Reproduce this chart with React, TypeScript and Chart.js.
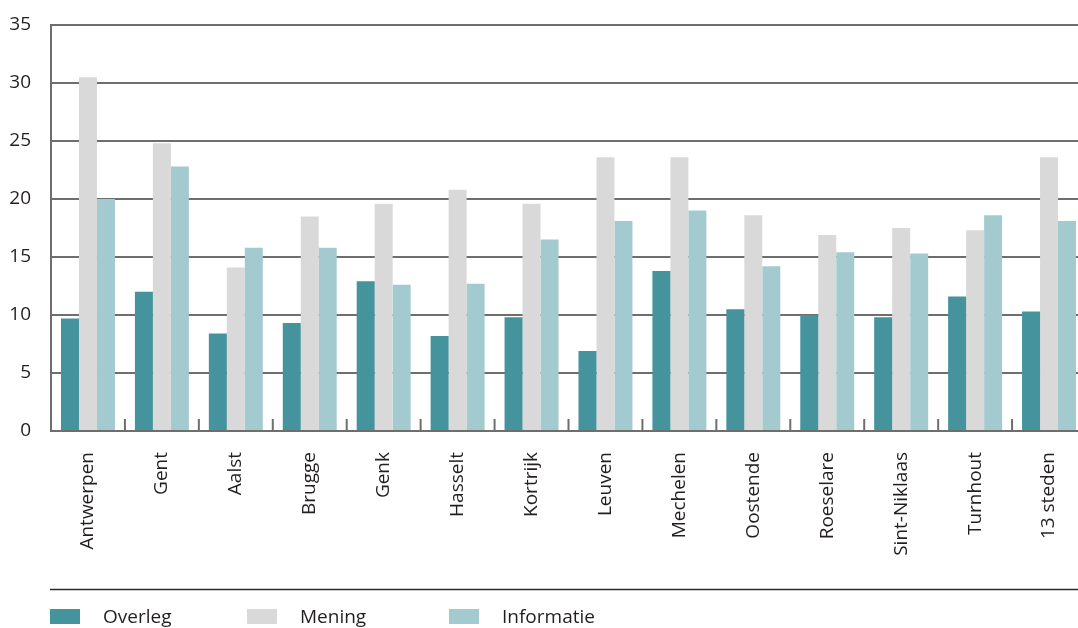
import React, { useEffect, useRef } from 'react';
import { Chart, registerables } from 'chart.js';

Chart.register(...registerables);

const categories = ['Antwerpen', 'Gent', 'Aalst', 'Brugge', 'Genk', 'Hasselt', 'Kortrijk', 'Leuven', 'Mechelen', 'Oostende', 'Roeselare', 'Sint-Niklaas', 'Turnhout', '13 steden'];
const overleg = [9.7, 12.0, 8.4, 9.3, 12.9, 8.2, 9.8, 6.9, 13.8, 10.5, 10.0, 9.8, 11.6, 10.3];
const mening = [30.5, 24.8, 14.1, 18.5, 19.6, 20.8, 19.6, 23.6, 23.6, 18.6, 16.9, 17.5, 17.3, 23.6];
const informatie = [20.0, 22.8, 15.8, 15.8, 12.6, 12.7, 16.5, 18.1, 19.0, 14.2, 15.4, 15.3, 18.6, 18.1];
const yTickValues = [0, 5, 10, 15, 20, 25, 30, 35];
const seriesNames = ['Overleg', 'Mening', 'Informatie'];
const seriesColors = ['#45939d', '#d9d9d9', '#a3cace'];
const legendOffsets = [0, 197, 399];

const FONT = "'Open Sans', sans-serif";
const TEXT = '#231f20';
const AXIS = '#6e6e6e';

const innerTicks = {
  id: 'innerTicks',
  afterDraw(chart: any) {
    const { ctx, chartArea, scales } = chart;
    const x = scales.x;
    ctx.save();
    ctx.strokeStyle = '#6e6e6e';
    ctx.lineWidth = 2;
    for (let i = 1; i < categories.length; i++) {
      const px = (x.getPixelForValue(i - 1) + x.getPixelForValue(i)) / 2;
      ctx.beginPath();
      ctx.moveTo(px, chartArea.bottom);
      ctx.lineTo(px, chartArea.bottom - 12);
      ctx.stroke();
    }
    ctx.restore();
  },
};

const bottomLegend = {
  id: 'bottomLegend',
  afterDraw(chart: any) {
    const { ctx, chartArea } = chart;
    const left = chartArea.left - 1;
    const lineY = chartArea.bottom + 158.5;
    ctx.save();
    ctx.strokeStyle = '#2b2b2b';
    ctx.lineWidth = 1.5;
    ctx.beginPath();
    ctx.moveTo(left, lineY);
    ctx.lineTo(chart.width, lineY);
    ctx.stroke();
    const boxY = chartArea.bottom + 178;
    ctx.font = `19px ${FONT}`;
    ctx.textBaseline = 'middle';
    ctx.textAlign = 'left';
    chart.data.datasets.forEach((ds: any, i: number) => {
      const bx = left + legendOffsets[i];
      ctx.fillStyle = ds.backgroundColor;
      ctx.fillRect(bx, boxY, 30, 15);
      ctx.fillStyle = TEXT;
      ctx.fillText(ds.label, bx + 53, boxY + 8.5);
    });
    ctx.restore();
  },
};

export default function App() {
  const canvasRef = useRef<HTMLCanvasElement | null>(null);

  useEffect(() => {
    const canvas = canvasRef.current;
    if (!canvas) return;
    const chart = new Chart(canvas, {
      type: 'bar',
      data: {
        labels: categories,
        datasets: [overleg, mening, informatie].map((values, i) => ({
          label: seriesNames[i],
          data: values,
          backgroundColor: seriesColors[i],
          borderWidth: 0,
          categoryPercentage: 0.73,
          barPercentage: 1.0,
        })),
      },
      options: {
        animation: false,
        responsive: false,
        devicePixelRatio: 1,
        layout: { padding: { top: 25, left: 0, right: 0, bottom: 0 } },
        plugins: {
          legend: { display: false },
          tooltip: { enabled: false },
        },
        scales: {
          x: {
            grid: { display: false, drawTicks: false },
            border: { display: true, color: AXIS, width: 2 },
            ticks: {
              autoSkip: false,
              maxRotation: 90,
              minRotation: 90,
              padding: 21,
              color: TEXT,
              font: { family: FONT, size: 19 },
            },
            afterFit: (s: any) => {
              s.height = 197;
              s.paddingLeft = 0;
              s.paddingRight = 0;
              s.paddingTop = 0;
              s.paddingBottom = 0;
            },
          },
          y: {
            min: 0,
            max: 35,
            grid: { color: AXIS, lineWidth: 2, drawTicks: false },
            border: { display: true, color: AXIS, width: 2 },
            afterBuildTicks: (s: any) => {
              s.ticks = yTickValues.map((v) => ({ value: v }));
            },
            ticks: {
              padding: 20,
              color: TEXT,
              font: { family: FONT, size: 19 },
            },
            afterFit: (s: any) => {
              s.width = 51;
              s.paddingTop = 0;
              s.paddingBottom = 0;
            },
          },
        },
      },
      plugins: [innerTicks, bottomLegend],
    });
    return () => chart.destroy();
  }, []);

  return (
    <div style={{ position: 'fixed', left: 0, top: 0, width: 1078, height: 628, overflow: 'hidden', background: '#fff' }}>
      <canvas ref={canvasRef} width={1086} height={628} style={{ width: 1086, height: 628, display: 'block' }} />
    </div>
  );
}
